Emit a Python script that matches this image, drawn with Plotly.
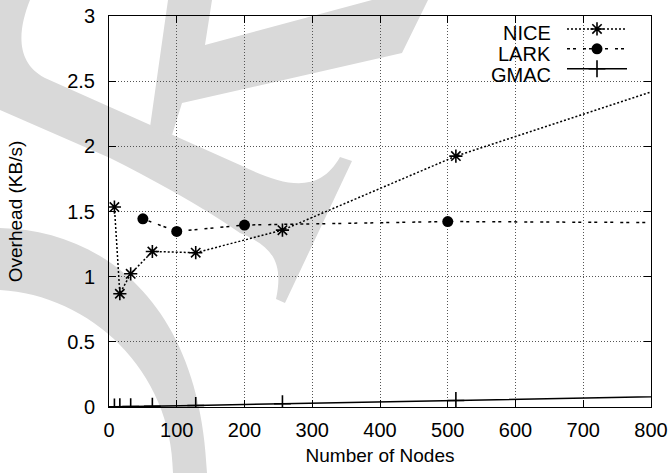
import plotly.graph_objects as go

# ---- data ----
series_names = ["NICE", "LARK", "GMAC"]

nodes_nice = [8, 16, 32, 64, 128, 256, 512, 1024]
overhead_nice = [1.534, 0.869, 1.022, 1.193, 1.184, 1.357, 1.925, 2.80]

nodes_lark = [50, 100, 200, 500, 1000]
overhead_lark = [1.444, 1.347, 1.396, 1.423, 1.41]

nodes_gmac = [8, 16, 32, 64, 128, 256, 512, 1024]
overhead_gmac = [0.001, 0.002, 0.003, 0.006, 0.012, 0.025, 0.05, 0.1]

x_ticks = [0, 100, 200, 300, 400, 500, 600, 700, 800]
y_ticks = [0, 0.5, 1, 1.5, 2, 2.5, 3]

FONT = "Liberation Sans, Arial, Helvetica, sans-serif"
FS = 20
W, H = 671, 473
L, R, T, B = 109, 20, 16, 66
PW, PH = W - L - R, H - T - B

fig = go.Figure()
fig.add_trace(go.Scatter(
    x=nodes_nice, y=overhead_nice, name=" ", mode="lines+markers",
    line=dict(color="black", width=1.5, dash="2px,2px"),
    marker=dict(symbol="asterisk-open", size=11, color="black",
                line=dict(color="black", width=1.6)),
    hovertext=series_names[0],
))
fig.add_trace(go.Scatter(
    x=nodes_lark, y=overhead_lark, name="  ", mode="lines+markers",
    line=dict(color="black", width=1.5, dash="3px,3px,3px,7px"),
    marker=dict(symbol="circle", size=11, color="black"),
    hovertext=series_names[1],
))
fig.add_trace(go.Scatter(
    x=nodes_gmac, y=overhead_gmac, name="   ", mode="lines+markers",
    line=dict(color="black", width=1.5),
    marker=dict(symbol="cross-thin-open", size=12, color="black",
                line=dict(color="black", width=1.6)),
    hovertext=series_names[2],
))


# ---- light grey watermark drawn behind the chart ----
def px_path(cmds):
    out = []
    for c in cmds:
        if isinstance(c, str):
            out.append(c)
        else:
            px, py = c
            out.append(f"{(px - L) / PW:.5f},{(T + PH - py) / PH:.5f}")
    return " ".join(out)


GREY = "#d9d9d9"
wm_paths = [
    # hook band with C-shaped end
    ["M", (0, 0), "L", (30, 0), "C", (18, 30), (15, 62), (45, 78),
     "L", (240, 165), "C", (282, 185), (318, 196), (340, 157),
     "L", (352, 161), "L", (285, 303), "L", (276, 299),
     "C", (284, 262), (272, 246), (240, 233),
     "C", (200, 205), (150, 178), (110, 158), "L", (0, 110), "Z"],
    # Z-like stroke
    ["M", (168, 0), "L", (212, 0), "L", (205, 45), "L", (372, 0), "L", (428, 0),
     "L", (402, 53), "L", (182, 103), "L", (172, 135), "L", (150, 127), "Z"],
    # bottom arc
    ["M", (0, 228), "C", (100, 230), (200, 300), (207, 473), "L", (173, 473),
     "C", (172, 370), (90, 295), (0, 290), "Z"],
]
for p in wm_paths:
    fig.add_shape(type="path", path=px_path(p), xref="paper", yref="paper",
                  fillcolor=GREY, line=dict(width=0), layer="below")

# legend labels, right-aligned to the left of the legend keys (gnuplot style)
LEG_ROW_Y = [33, 54, 75]
for name, ry in zip(series_names, LEG_ROW_Y):
    fig.add_annotation(text=name, xref="paper", yref="paper",
                       x=(553 - L) / PW, y=(T + PH - ry) / PH,
                       xanchor="right", yanchor="middle", showarrow=False,
                       font=dict(family=FONT, size=FS, color="black"))

axis_common = dict(
    showline=True, linecolor="black", linewidth=1, mirror="allticks",
    ticks="inside", ticklen=7, tickcolor="black", tickwidth=1,
    showgrid=True, gridcolor="#555555", gridwidth=1, griddash="1px,2px",
    zeroline=False, tickfont=dict(family=FONT, size=FS, color="black"),
    automargin=False,
)

fig.update_layout(
    width=W, height=H, autosize=False,
    margin=dict(l=L, r=R, t=T, b=B, pad=0),
    paper_bgcolor="white", plot_bgcolor="rgba(0,0,0,0)",
    font=dict(family=FONT, size=FS, color="black"),
    xaxis=dict(range=[0, 800], tickvals=x_ticks, ticktext=[str(v) for v in x_ticks],
               title=dict(text="Number of Nodes", font=dict(family=FONT, size=FS - 1), standoff=8),
               ticklabelstandoff=5, **axis_common),
    yaxis=dict(range=[0, 3], tickvals=y_ticks, ticktext=[f"{v:g}" for v in y_ticks],
               title=dict(text="Overhead (KB/s)", font=dict(family=FONT, size=FS - 1), standoff=39),
               ticklabelstandoff=9, **axis_common),
    legend=dict(x=(562 - L) / PW, y=(T + PH - 14) / PH, xanchor="left", yanchor="top",
                bgcolor="rgba(0,0,0,0)", borderwidth=0,
                font=dict(family=FONT, size=13, color="black"),
                itemwidth=60, tracegroupgap=0),
    showlegend=True,
)

fig.write_html("out.html")
